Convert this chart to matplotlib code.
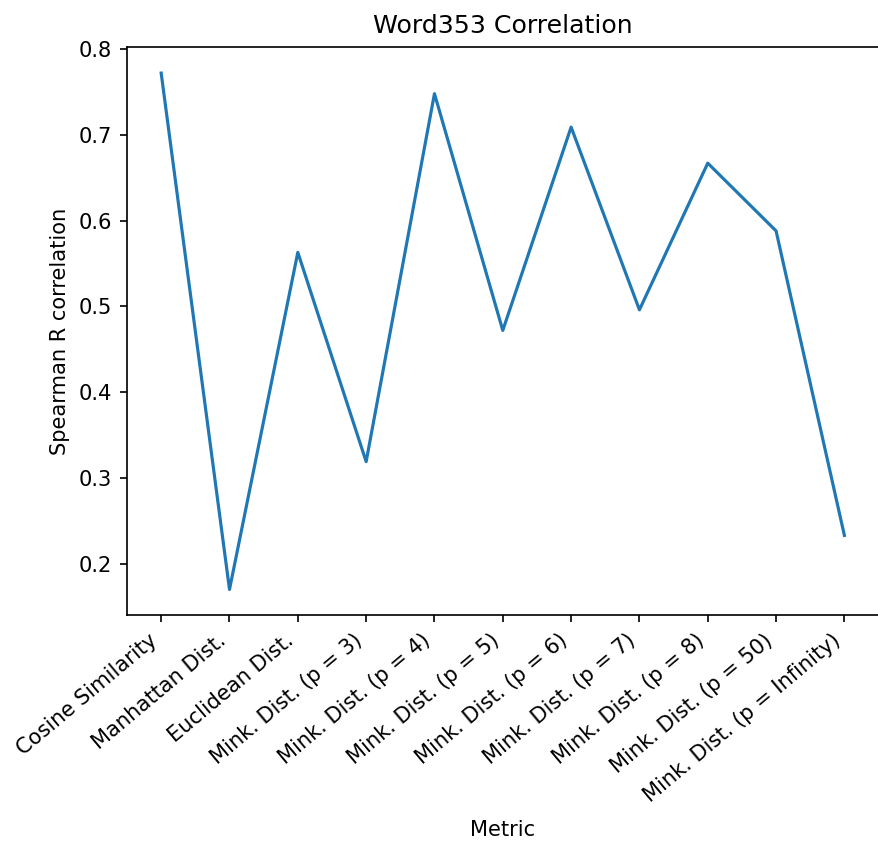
import matplotlib
matplotlib.use("Agg")
import matplotlib.pyplot as plt

metrics = ["Cosine Similarity", "Manhattan Dist.", "Euclidean Dist.",
           "Mink. Dist. (p = 3)", "Mink. Dist. (p = 4)", "Mink. Dist. (p = 5)",
           "Mink. Dist. (p = 6)", "Mink. Dist. (p = 7)", "Mink. Dist. (p = 8)",
           "Mink. Dist. (p = 50)", "Mink. Dist. (p = Infinity)"]
correlations = [0.772, 0.170, 0.563, 0.319, 0.748, 0.472, 0.709, 0.496, 0.667, 0.588, 0.233]

s = 1.515
fig = plt.figure(figsize=(8.79, 8.44), dpi=100)
ax = fig.add_axes([0.1445, 0.271, 0.855, 0.673])
ax.plot(metrics, correlations, color="#1f77b4", linewidth=1.5 * s)
ax.set_title("Word353 Correlation", fontsize=12 * s, pad=7 * s)
ax.set_xlabel("Metric", fontsize=10 * s, labelpad=6.5 * s)
ax.set_ylabel("Spearman R correlation", fontsize=10 * s, labelpad=4 * s)
ax.set_yticks([0.2, 0.3, 0.4, 0.5, 0.6, 0.7, 0.8])
ax.tick_params(labelsize=10 * s, length=3.5 * s, width=0.8 * s, pad=3.5 * s)
for sp in ax.spines.values():
    sp.set_linewidth(0.8 * s)
plt.setp(ax.get_xticklabels(), rotation=40, ha="right")
fig.savefig("out.png", dpi=100)
